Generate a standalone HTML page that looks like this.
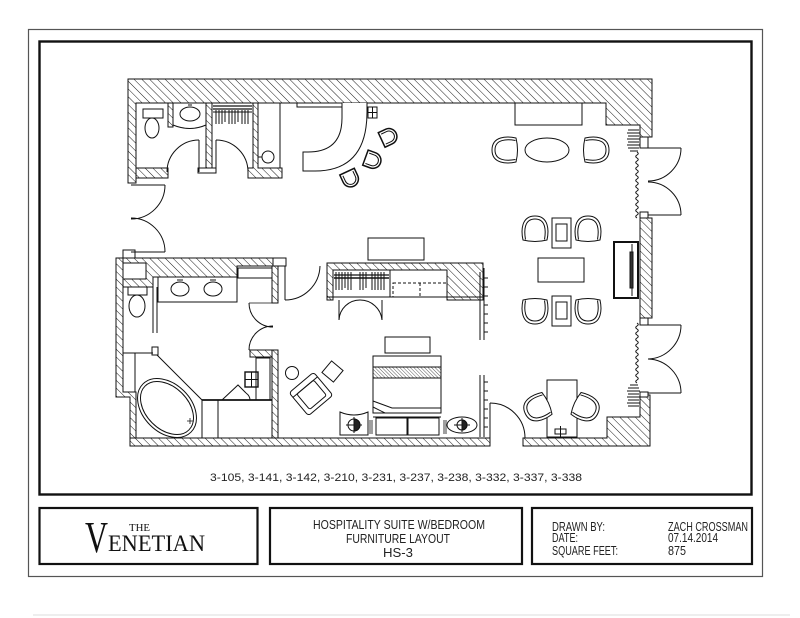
<!DOCTYPE html>
<html><head><meta charset="utf-8"><style>
html,body{margin:0;padding:0;background:#fff;width:800px;height:618px;overflow:hidden}
svg{display:block}
</style></head><body>
<svg width="800" height="618" viewBox="0 0 800 618" xmlns="http://www.w3.org/2000/svg">
<defs>
<pattern id="h" width="5.5" height="5.5" patternUnits="userSpaceOnUse" patternTransform="rotate(-45)"><line x1="0" y1="0" x2="0" y2="5.5" stroke="#111" stroke-width="0.95"/></pattern>
<pattern id="h2" width="2.5" height="2.5" patternUnits="userSpaceOnUse" patternTransform="rotate(-45)"><line x1="0" y1="0" x2="0" y2="2.5" stroke="#333" stroke-width="0.8"/></pattern>
<g id="ch"><path d="M-12,11 C-14,2 -14,-13 0,-13 C14,-13 14,2 12,11 Q0,14 -12,11 Z" fill="#fff"/><path d="M-9.5,10.5 C-11,2 -11,-10 0,-10 C11,-10 11,2 9.5,10.5" fill="none"/></g>
<g id="dc"><path d="M-7,-8 H1 A8,8 0 0 1 1,8 H-7 Z" fill="#fff" stroke-width="1.5"/><path d="M-5,-5.5 H1 A5.5,5.5 0 0 1 1,5.5 H-5" fill="none"/></g>
</defs>
<rect width="800" height="618" fill="#fff"/>
<!-- frames -->
<rect x="28.5" y="29.5" width="734" height="547" fill="none" stroke="#555" stroke-width="1.2"/>
<rect x="39.5" y="41.5" width="712" height="453" fill="none" stroke="#111" stroke-width="2.4"/>
<rect x="39.5" y="508" width="218" height="56" fill="none" stroke="#111" stroke-width="2.2"/>
<rect x="270" y="508" width="252" height="56" fill="none" stroke="#111" stroke-width="2.2"/>
<rect x="532" y="508" width="220" height="56" fill="none" stroke="#111" stroke-width="2.2"/>
<line x1="33" y1="615" x2="790" y2="615" stroke="#ddd" stroke-width="1"/>

<!-- texts -->
<g font-family="'Liberation Sans', sans-serif" fill="#222">
<text x="210" y="481" font-size="11" textLength="372" lengthAdjust="spacingAndGlyphs">3-105, 3-141, 3-142, 3-210, 3-231, 3-237, 3-238, 3-332, 3-337, 3-338</text>
<text x="313" y="529" font-size="13" textLength="172" lengthAdjust="spacingAndGlyphs">HOSPITALITY SUITE W/BEDROOM</text>
<text x="346" y="543" font-size="13" textLength="104" lengthAdjust="spacingAndGlyphs">FURNITURE LAYOUT</text>
<text x="383" y="557" font-size="13" textLength="30" lengthAdjust="spacingAndGlyphs">HS-3</text>
<text x="552" y="531" font-size="12.5" textLength="53" lengthAdjust="spacingAndGlyphs">DRAWN BY:</text>
<text x="552" y="542" font-size="12.5" textLength="26" lengthAdjust="spacingAndGlyphs">DATE:</text>
<text x="552" y="555" font-size="12.5" textLength="66" lengthAdjust="spacingAndGlyphs">SQUARE FEET:</text>
<text x="668" y="531" font-size="12.5" textLength="80" lengthAdjust="spacingAndGlyphs">ZACH CROSSMAN</text>
<text x="668" y="542" font-size="12.5" textLength="50" lengthAdjust="spacingAndGlyphs">07.14.2014</text>
<text x="668" y="555" font-size="12.5" textLength="18" lengthAdjust="spacingAndGlyphs">875</text>
</g>
<g font-family="'Liberation Serif', serif" fill="#111">
<text x="85" y="552" font-size="44" textLength="23" lengthAdjust="spacingAndGlyphs">V</text>
<text x="129" y="531" font-size="11" textLength="21" lengthAdjust="spacingAndGlyphs">THE</text>
<text x="108" y="551" font-size="23" textLength="97" lengthAdjust="spacingAndGlyphs">ENETIAN</text>
</g>

<!-- walls -->
<g fill="url(#h)" stroke="#111" stroke-width="1">
<path d="M128,79 H652 V137 H640 V125 H606 V103 H136 V183 H128 Z"/>
<rect x="136" y="168" width="32" height="10"/>
<rect x="168" y="103" width="5" height="24"/>
<rect x="206" y="103" width="6" height="69"/>
<path d="M253,103 H258 V168 H282 V178 H248 V168 H253 Z"/>
<path d="M116,258 H123 V392 H136 V438 H130 V397 H116 Z"/>
<rect x="130" y="438" width="360" height="8"/>
<path d="M523,438 H607 V417 H640 V395 H650 V446 H523 Z"/>
<rect x="640" y="218" width="12" height="100"/>
<path d="M123,258 H286 V266 H237 V277 H153 V287 H123 Z"/>
<rect x="272" y="266" width="6" height="37"/>
<rect x="272" y="350" width="6" height="88"/>
<rect x="250" y="350" width="22" height="7"/>
<path d="M327,263 H483 V300 H447 V270 H333 V300 H327 Z"/>
</g>

<g fill="none" stroke="#111" stroke-width="1">
<!-- jambs -->
<rect x="198" y="168" width="18" height="5" fill="#fff"/>
<rect x="640" y="137" width="8" height="11" fill="#fff"/>
<rect x="640" y="212" width="8" height="6" fill="#fff"/>
<rect x="640" y="318" width="8" height="7" fill="#fff"/>
<rect x="640" y="392" width="8" height="5" fill="#fff"/>
<rect x="123" y="250" width="12" height="8" fill="#fff"/>

<!-- upper-left bath -->
<rect x="143" y="109" width="20" height="9"/>
<ellipse cx="152" cy="128" rx="7" ry="10"/>
<path d="M173,103 V125 Q190,132 206,125 V103"/>
<ellipse cx="190" cy="114" rx="10" ry="7"/>
<line x1="188" y1="105" x2="192" y2="105"/>
<line x1="199" y1="140" x2="199" y2="172"/>
<path d="M199,140 A32,32 0 0 0 167,172"/>
<line x1="216" y1="140" x2="216" y2="172"/>
<path d="M216,140 A32,32 0 0 1 248,172"/>
<!-- closet rods -->
<line x1="213" y1="106" x2="252" y2="106" stroke-width="1.3"/>
<line x1="213" y1="109" x2="252" y2="109" stroke-width="1.3"/>
<line x1="213" y1="112" x2="252" y2="112"/>
<path d="M216,110 V124 M219,110 V124 M222,110 V124 M225,110 V122 M229,110 V124 M232,110 V124 M235,110 V124 M238,110 V122 M242,110 V124 M245,110 V124 M248,110 V124"/>
<line x1="280" y1="103" x2="280" y2="168"/>
<circle cx="268" cy="157" r="6"/>
<line x1="262" y1="157" x2="258" y2="157"/>

<!-- reception desk -->
<rect x="297" y="103" width="46" height="4"/>
<path d="M342,103 V118 Q342,152 308,152 H303 V171 H315 Q367,171 367,112 V103" fill="#fff"/>
<rect x="368" y="107" width="9" height="11"/>
<path d="M372.5,107 V118 M368,112.5 H377"/>
<use href="#dc" transform="translate(388,137) rotate(-25)"/>
<use href="#dc" transform="translate(372,160) rotate(20)"/>
<use href="#dc" transform="translate(350,178) rotate(65)"/>

<!-- left double door -->
<line x1="131" y1="185" x2="165" y2="185"/>
<path d="M165,185 A34,34 0 0 1 131,219"/>
<line x1="131" y1="252" x2="165" y2="252"/>
<path d="M165,252 A34,34 0 0 0 131,218"/>

<!-- dining -->
<rect x="515" y="103" width="67" height="22"/>
<ellipse cx="547" cy="150" rx="22" ry="12"/>
<use href="#ch" transform="translate(505,150) rotate(-90)"/>
<use href="#ch" transform="translate(596,150) rotate(90)"/>

<!-- right doors -->
<line x1="648" y1="148" x2="681" y2="148"/>
<path d="M681,148 A33,33 0 0 1 648,181"/>
<line x1="648" y1="215" x2="681" y2="215"/>
<path d="M681,215 A33,33 0 0 0 648,182"/>
<line x1="648" y1="325" x2="681" y2="325"/>
<path d="M681,325 A34,34 0 0 1 648,359"/>
<line x1="648" y1="393" x2="681" y2="393"/>
<path d="M681,393 A34,34 0 0 0 648,359"/>

<!-- curtains -->
<path d="M637,152 q2.5,1.5 0,3 q-2.5,1.5 0,3 q2.5,1.5 0,3 q-2.5,1.5 0,3 q2.5,1.5 0,3 q-2.5,1.5 0,3 q2.5,1.5 0,3 q-2.5,1.5 0,3 q2.5,1.5 0,3 q-2.5,1.5 0,3 q2.5,1.5 0,3 q-2.5,1.5 0,3 q2.5,1.5 0,3 q-2.5,1.5 0,3 q2.5,1.5 0,3 q-2.5,1.5 0,3 q2.5,1.5 0,3 q-2.5,1.5 0,3 q2.5,1.5 0,3 q-2.5,1.5 0,3 q2.5,1.5 0,3 q-2.5,1.5 0,3"/>
<path d="M628,130 h11 M627,133 h13 M628,136 h11 M627,139 h13 M628,142 h11 M627,145 h13 M628,148 h11 M630,151 h8" stroke-width="0.9"/>
<path d="M637,323 q2.5,1.5 0,3 q-2.5,1.5 0,3 q2.5,1.5 0,3 q-2.5,1.5 0,3 q2.5,1.5 0,3 q-2.5,1.5 0,3 q2.5,1.5 0,3 q-2.5,1.5 0,3 q2.5,1.5 0,3 q-2.5,1.5 0,3 q2.5,1.5 0,3 q-2.5,1.5 0,3 q2.5,1.5 0,3 q-2.5,1.5 0,3 q2.5,1.5 0,3 q-2.5,1.5 0,3 q2.5,1.5 0,3 q-2.5,1.5 0,3 q2.5,1.5 0,3 q-2.5,1.5 0,3"/>
<path d="M630,385 h8 M628,388 h11 M627,391 h13 M628,394 h11 M627,397 h13 M628,400 h11 M627,403 h13 M628,406 h11" stroke-width="0.9"/>

<!-- living -->
<use href="#ch" transform="translate(535,229)"/>
<use href="#ch" transform="translate(588,229)"/>
<use href="#ch" transform="translate(535,311) rotate(180)"/>
<use href="#ch" transform="translate(588,311) rotate(180)"/>
<rect x="552" y="218" width="19" height="30"/>
<rect x="556" y="224" width="11" height="17"/>
<rect x="552" y="296" width="19" height="30"/>
<rect x="556" y="302" width="11" height="17"/>
<rect x="538" y="258" width="46" height="24"/>
<rect x="614" y="242" width="24" height="56" stroke-width="2"/>
<line x1="632" y1="244" x2="632" y2="296"/>
<rect x="630" y="252" width="3" height="36" fill="#333"/>

<!-- desk -->
<rect x="547" y="380" width="30" height="57"/>
<rect x="555" y="429" width="11" height="5"/>
<line x1="560.5" y1="426" x2="560.5" y2="437"/>
<use href="#ch" transform="translate(537,408) rotate(-115)"/>
<use href="#ch" transform="translate(586,408) rotate(115)"/>

<!-- bottom door -->
<line x1="490" y1="403" x2="490" y2="438"/>
<path d="M490,403 A35,35 0 0 1 525,438"/>

<!-- bedroom partition ladders -->
<path d="M480,272 V340 M484,268 V340"/>
<path d="M484,278 h4 M484,287 h4 M484,296 h4 M484,305 h4 M484,314 h4 M484,323 h4 M484,332 h4" />
<path d="M480,375 V437 M484,375 V437"/>
<path d="M484,382 h4 M484,391 h4 M484,400 h4 M484,409 h4 M484,418 h4 M484,427 h4"/>

<!-- bedroom closet -->
<rect x="368" y="238" width="56" height="22"/>
<line x1="327" y1="297" x2="483" y2="297"/>
<line x1="334" y1="278" x2="389" y2="278" stroke-width="1.6"/>
<line x1="334" y1="275" x2="389" y2="275" stroke-width="1.3"/>
<path d="M336,272 V290 M339,272 V290 M342,272 V290 M345,272 V288 M348,272 V290 M351,272 V290 M360,272 V290 M363,272 V290 M366,272 V288 M372,272 V290 M375,272 V290 M378,272 V290 M381,272 V290 M384,272 V290"/>
<line x1="390" y1="270" x2="390" y2="297"/>
<rect x="393" y="283" width="54" height="14" stroke-dasharray="3,2"/>
<line x1="420" y1="283" x2="420" y2="297" stroke-dasharray="3,2"/>
<line x1="339" y1="300" x2="339" y2="320"/>
<path d="M339,320 A21,21 0 0 1 360,300"/>
<line x1="382" y1="300" x2="382" y2="320"/>
<path d="M382,320 A22,22 0 0 0 360,300"/>
<!-- door into bedroom area -->
<line x1="285" y1="266" x2="285" y2="300"/>
<path d="M285,300 A35,35 0 0 0 320,266"/>

<!-- bed -->
<rect x="385" y="337" width="45" height="16"/>
<rect x="373" y="356" width="68" height="57"/>
<rect x="373" y="367" width="68" height="11" fill="url(#h2)"/>
<path d="M373,401 L392,408 H441 M373,407 L385,413"/>
<line x1="373" y1="417" x2="441" y2="417"/>
<rect x="376" y="418" width="31" height="17"/>
<rect x="408" y="418" width="31" height="17"/>
<path d="M340,412 Q354,418 368,412 V435 H340 Z"/>
<circle cx="354" cy="425" r="6"/>
<path d="M346,425 h16 M354,417 v16"/>
<path d="M354,419 A6,6 0 0 1 354,431 Z" fill="#222"/>
<path d="M370,420 v14 M372,420 v14" stroke-width="0.8"/>
<ellipse cx="462" cy="425" rx="15" ry="8"/>
<circle cx="462" cy="425" r="5"/>
<path d="M454,425 h16 M462,418 v14"/>
<path d="M462,420 A5,5 0 0 1 462,430 Z" fill="#222"/>
<path d="M444,420 v14 M446,420 v14" stroke-width="0.8"/>
<!-- armchair, ottoman, side table -->
<g transform="translate(311,394) rotate(-40)">
<rect x="-16" y="-15" width="32" height="30" rx="3" fill="#fff"/>
<rect x="-11" y="-9" width="22" height="20" rx="2"/>
<line x1="-16" y1="-9" x2="16" y2="-9"/>
</g>
<rect x="325" y="364" width="15" height="15" transform="rotate(40 332.5 371.5)"/>
<circle cx="292" cy="373" r="6.5"/>

<!-- lower-left bath -->
<rect x="123" y="263" width="23" height="16" fill="#fff"/>
<rect x="238" y="268" width="34" height="10" fill="#fff"/>
<rect x="273" y="258" width="13" height="8" fill="#fff"/>
<rect x="158" y="277" width="79" height="25"/>
<ellipse cx="180" cy="289" rx="9" ry="7"/>
<ellipse cx="213" cy="289" rx="9" ry="7"/>
<path d="M177,280 h6 M210,280 h6"/>
<line x1="237" y1="278" x2="237" y2="302"/>
<rect x="128" y="287" width="19" height="8"/>
<ellipse cx="137" cy="306" rx="8" ry="11"/>
<path d="M153,287 V333 M157,287 V333"/>
<path d="M249,303 L273,303 M249,350 L273,350" stroke-width="0.8"/>
<path d="M249,303 A24,24 0 0 0 273,327"/>
<path d="M249,350 A24,24 0 0 1 273,326"/>
<line x1="123" y1="353" x2="153" y2="353"/>
<line x1="135" y1="353" x2="135" y2="392"/>
<rect x="152" y="347" width="6" height="8"/>
<path d="M157,355 L202,400 V438"/>
<ellipse cx="167" cy="408" rx="34" ry="24" transform="rotate(45 167 408)"/>
<ellipse cx="167" cy="408" rx="31" ry="21" transform="rotate(45 167 408)"/>
<path d="M190,418 v6 M187,421 h6" stroke-width="0.8"/>
<rect x="202" y="400" width="16" height="38"/>
<line x1="202" y1="400" x2="272" y2="400" stroke-width="1.8"/>
<rect x="256" y="358" width="14" height="42"/>
<rect x="245" y="372" width="13" height="15" stroke-width="1.4"/>
<path d="M251.5,372 V387 M245,379.5 H258"/>
<path d="M222,400 L238,385 L246,393"/>
<path d="M246,393 Q250,396 250,400"/>
</g>
</svg>
</body></html>
